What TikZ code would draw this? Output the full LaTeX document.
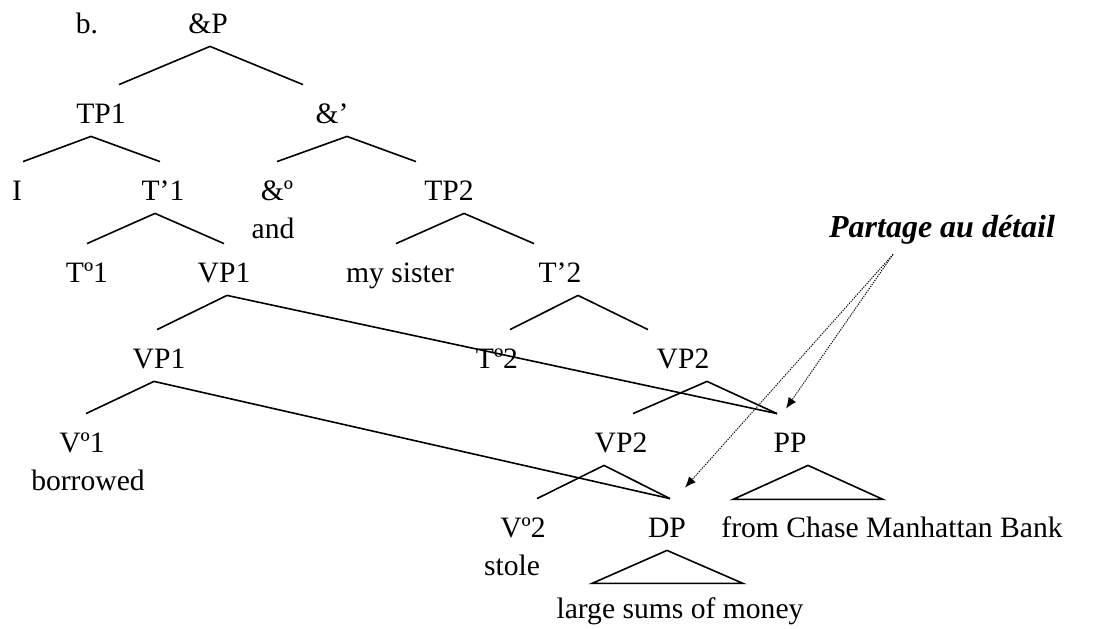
\documentclass[tikz,border=0pt]{standalone}
\usepackage{fontspec}
\setmainfont{Liberation Serif}
\usepackage{tikz}
\usetikzlibrary{positioning, arrows.meta}

\begin{document}
\begin{tikzpicture} % coordinates are in pixels of the scan, y pointing down
    % every category label sits on its baseline, the tall box makes
    % .north / .south land where the branches start and stop
    [x = 0.5pt, y = -0.5pt,
      cat/.style={font=\fontsize{14.8pt}{18pt}\selectfont, anchor=base,
        inner xsep=0pt, inner ysep=2.5pt, text height=16.5pt, text depth=4pt},
      word/.style={font=\fontsize{14.8pt}{18pt}\selectfont,
        inner sep=0pt, text height=11.2pt, text depth=4pt},
      note/.style={font=\fontsize{16pt}{19pt}\selectfont\bfseries\itshape,
        anchor=base, inner xsep=0pt, inner ysep=4.5pt, text depth=4pt},
      branch/.style={line width=0.8pt},
      share/.style={line width=0.5pt, dash pattern=on 0.6pt off 0.6pt,
        -{Latex[length=5.5pt, width=4.5pt]}}]
    \useasboundingbox (0,0) rectangle (1109,628);

    \node[cat] (ex) at (87,33) {b.};
    \node[cat] (andp) at (208,33) {\&P};
    \node[cat] (tp1) at (101,123) {TP1};
    \node[cat] (andbar) at (332,123) {\&’};
    \node[cat] (subj1) at (17,200) {I};
    \node[cat] (tbar1) at (163,200) {T’1};
    \node[cat] (andhead) at (277,200) {\&º};
    \node[word, below=1pt of andhead, xshift=-2pt] (andw) {and};
    \node[cat] (tp2) at (449,200) {TP2};
    \node[cat] (thead1) at (87,282) {Tº1};
    \node[cat] (vp1top) at (224,282) {VP1};
    \node[cat] (subj2) at (400,282) {my sister};
    \node[cat] (tbar2) at (560,282) {T’2};
    \node[cat] (vp1) at (159,368) {VP1};
    \node[cat] (thead2) at (497,368) {Tº2};
    \node[cat] (vp2top) at (683,368) {VP2};
    \node[cat] (vhead1) at (82,452) {Vº1};
    \node[word, below=1pt of vhead1, xshift=3pt] (borrowed) {borrowed};
    \node[cat] (vp2) at (621,452) {VP2};
    \node[cat] (pp) at (790,452) {PP};
    \node[cat] (vhead2) at (523,537) {Vº2};
    \node[word, below=1pt of vhead2, xshift=-5.5pt] (stole) {stole};
    \node[cat] (dp) at (667,537) {DP};
    \node[cat] (ppwords) at (892,537) {from Chase Manhattan Bank};
    \node[cat] (dpwords) at (680,618) {large sums of money};
    \node[note] (partage) at (942,237) {Partage au détail};

    % branches (the shifts follow the hand-placed lines of the original)
    \draw[branch] ([xshift=9pt]tp1.north) -- ([xshift=1pt]andp.south) -- ([xshift=-14.5pt]andbar.north);
    \draw[branch] ([xshift=3pt]subj1.north) -- ([xshift=-5pt]tp1.south) -- ([xshift=-1.5pt]tbar1.north);
    \draw[branch] (andhead.north) -- ([xshift=7.5pt]andbar.south) -- ([xshift=-16.5pt]tp2.north);
    \draw[branch] (thead1.north) -- ([xshift=-4pt]tbar1.south) -- (vp1top.north);
    \draw[branch] ([xshift=-2pt]subj2.north) -- ([xshift=7.5pt]tp2.south) -- ([xshift=-13pt]tbar2.north);
    \draw[branch] ([xshift=6.5pt]thead2.north) -- ([xshift=9pt]tbar2.south) -- ([xshift=-17.5pt]vp2top.north);
    \draw[branch] ([xshift=6pt]vp2.north) -- ([xshift=12pt]vp2top.south) -- ([xshift=-6.5pt]pp.north);
    \draw[branch] ([xshift=7pt]vhead2.north) -- ([xshift=-8.5pt]vp2.south) -- ([xshift=1.5pt]dp.north);
    % the shared constituents hang from both conjuncts
    \draw[branch] ([xshift=-1pt]vp1.north) -- ([xshift=1.5pt]vp1top.south) -- ([xshift=-6.5pt]pp.north);
    \draw[branch] ([xshift=2pt]vhead1.north) -- ([xshift=-2.5pt]vp1.south) -- ([xshift=1.5pt]dp.north);

    % roofs
    \draw[branch] ([xshift=9pt]pp.south) -- ++(-75,34) -- ++(150,0) -- cycle;
    \draw[branch] (dp.south) -- ++(-75,33) -- ++(151,0) -- cycle;

    % dotted pointers from the label
    \draw[share] ([xshift=-24.5pt]partage.south) -- ([xshift=9pt, yshift=5.5pt]dp.north);
    \draw[share] ([xshift=-24.5pt]partage.south) -- ([xshift=-2pt, yshift=2.5pt]pp.north);
\end{tikzpicture}
\end{document}
